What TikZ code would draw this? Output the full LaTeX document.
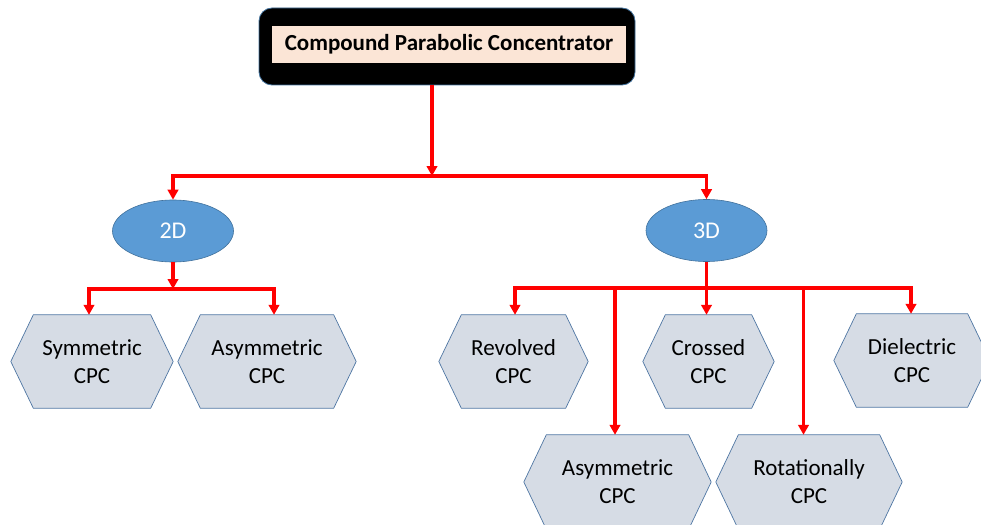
\documentclass[tikz,border=0pt]{standalone}
\usepackage{fontspec}
\setmainfont{Carlito}
\usetikzlibrary{arrows.meta,shapes.geometric,backgrounds}

\definecolor{linkred}{HTML}{FF0000}
\definecolor{ovalfill}{HTML}{5B9BD5}
\definecolor{ovaledge}{HTML}{41719C}
\definecolor{hexfillc}{HTML}{D6DCE5}
\definecolor{hexedge}{HTML}{4F76A3}
\definecolor{titlefill}{HTML}{FBE5D6}

\tikzset{
  link/.style={draw=linkred, line width=3.1pt},
  arr/.style={link, -{Triangle[length=10pt,width=10.5pt]}},
  oval/.style={ellipse, fill=ovalfill, draw=ovaledge, line width=0.6pt,
    minimum width=121pt, minimum height=62pt, inner sep=0pt,
    text=white, font=\fontsize{24}{28}\selectfont},
  hexnode/.style={rectangle, inner sep=0pt, minimum height=93pt, align=center,
    font=\fontsize{23}{28}\selectfont},
  hexpath/.style={fill=hexfillc, draw=hexedge, line width=0.7pt, line join=miter},
}

% elongated hexagon round a node, with its points on the node's west and east
\newcommand\hexround[1]{%
  \path[hexpath] ([xshift=22.5pt]#1.north west) -- ([xshift=-22.5pt]#1.north east)
    -- (#1.east) -- ([xshift=-22.5pt]#1.south east) -- ([xshift=22.5pt]#1.south west)
    -- (#1.west) -- cycle;}

\begin{document}
\begin{tikzpicture}[x=1pt,y=-1pt]
  \useasboundingbox (0,0) rectangle (981,524);

  % title block
  \node[rectangle, rounded corners=13pt, fill=black, draw=ovaledge, line width=0.8pt,
        minimum width=376pt, minimum height=77pt] (titlebox) at (447,46.5) {};
  \node[rectangle, fill=titlefill, minimum width=354pt, minimum height=37pt, inner sep=0pt,
        font=\bfseries\fontsize{23}{27}\selectfont] (title) at (449,44.5)
        {Compound Parabolic Concentrator};

  % dimension ovals
  \node[oval] (e2d) at (173,231) {2D};
  \node[oval] (e3d) at (706.5,230.5) {3D};

  % CPC variants
  \node[hexnode, minimum width=162pt] (sym)   at (92,361.5)  {Symmetric\\CPC};
  \node[hexnode, minimum width=178pt] (asymA) at (267,361.5) {Asymmetric\\CPC};
  \node[hexnode, minimum width=149pt] (rev)   at (513.5,361.5) {Revolved\\CPC};
  \node[hexnode, minimum width=131pt] (cross) at (708.5,361.5) {Crossed\\CPC};
  \node[hexnode, minimum width=156pt] (diel)  at (912,360.5) {Dielectric\\CPC};
  \node[hexnode, minimum width=187pt, minimum height=94pt] (asymB) at (617.5,482) {Asymmetric\\CPC};
  \node[hexnode, minimum width=186pt, minimum height=94pt] (rot)   at (809,482) {Rotationally\\CPC};

  \begin{scope}[on background layer]
    \hexround{sym}\hexround{asymA}\hexround{rev}\hexround{cross}
    \hexround{diel}\hexround{asymB}\hexround{rot}
  \end{scope}

  % branch points
  \coordinate (hubTop) at (432,176);
  \coordinate (hub2d)  at (173,289);
  \coordinate (hub3d)  at (706.5,288);

  % connectors
  \draw[arr] (titlebox.south -| hubTop) -- (hubTop);
  \draw[arr] (hubTop) -| (e2d.north);
  \draw[arr] (hubTop) -| (e3d.north);

  \draw[arr] (e2d.south) -- (hub2d);
  \draw[arr] (hub2d) -| ([xshift=-3pt]sym.north);
  \draw[arr] (hub2d) -| ([xshift=7pt]asymA.north);

  \draw[arr] (e3d.south) -- (e3d.south |- cross.north);
  \draw[arr] (hub3d) -| ([xshift=1.5pt]rev.north);
  \draw[arr] (hub3d) -| ([xshift=-2.5pt]asymB.north);
  \draw[arr] (hub3d) -| ([xshift=-5.5pt]rot.north);
  \draw[arr] (hub3d) -| ([xshift=-1pt]diel.north);
\end{tikzpicture}
\end{document}
